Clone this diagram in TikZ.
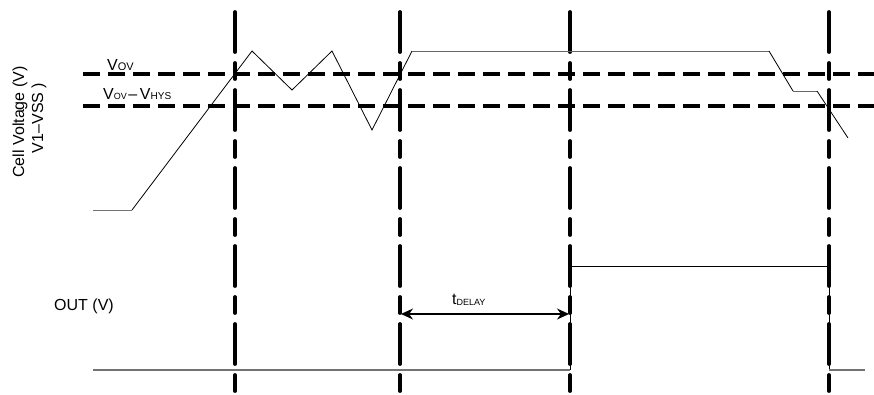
\documentclass[tikz,border=0pt]{standalone}
\usepackage{fontspec}
\setmainfont{Liberation Sans}
\usetikzlibrary{arrows.meta}
\begin{document}
\begin{tikzpicture}[x=1pt,y=-1pt,
  hdash/.style={line width=3.6pt,dash pattern=on 17pt off 8pt},
  vdash/.style={line width=3.8pt,line cap=round,dash pattern=on 40pt off 11pt on 16pt off 11pt},
  sig/.style={line width=0.8pt,black},
  low/.style={line width=1.3pt,black!55},
  lbl/.style={font=\fontsize{16}{19}\selectfont,inner sep=0pt},
  arr/.style={line width=1.1pt,{Stealth[length=12pt,width=11pt]}-{Stealth[length=12pt,width=11pt]}}]
\useasboundingbox (0,0) rectangle (874,394);
% threshold lines
\coordinate (ov0) at (83,74); \coordinate (ov1) at (874,74);
\coordinate (hy0) at (83,106); \coordinate (hy1) at (874,106);
\draw[hdash] (ov0) -- (ov1);
\draw[hdash] (hy0) -- (hy1);
% vertical markers
\foreach \n/\x in {a/235,b/400,c/570,d/829}{
  \coordinate (\n0) at (\x,12); \coordinate (\n1) at (\x,396);
  \draw[vdash] (\n0) -- (\n1);
}
% cell voltage waveform
\coordinate (s0) at (93,210);
\coordinate (s1) at (132,210);
\coordinate (s2) at (252,51);
\coordinate (s3) at (292,90);
\coordinate (s4) at (332,51);
\coordinate (s5) at (372,130);
\coordinate (s6) at (412,51);
\coordinate (s7) at (769,51);
\coordinate (s8) at (793,91);
\coordinate (s9) at (817,91);
\coordinate (s10) at (848,138);
\draw[line width=0.8pt,black!55] (s0) -- (s1);
\draw[sig] (s1) -- (s2) -- (s3) -- (s4) -- (s5) -- (s6);
\draw[line width=0.8pt,black!60] (s6) -- (s7);
\draw[sig] (s7) -- (s8);
\draw[line width=0.8pt,black!60] (s8) -- (s9);
\draw[sig] (s9) -- (s10);
% OUT waveform
\coordinate (o0) at (93,370);
\coordinate (o1) at (570,370);
\coordinate (o2) at (570,266);
\coordinate (o3) at (829,266);
\coordinate (o4) at (829,370);
\coordinate (o5) at (865,370);
\draw[low] (o0) -- (o1);
\draw[sig] (o1) -- (o2) -- (o3) -- (o4);
\draw[low] (o4) -- (o5);
% delay arrow
\coordinate (t0) at (401,314); \coordinate (t1) at (569,314);
\draw[arr] (t0) -- (t1);
\node[anchor=base west,inner sep=0pt] (td) at (452,304) {\fontsize{16}{19}\selectfont t\raisebox{-1pt}{\fontsize{9}{11}\selectfont DELAY}};
% labels
\node[lbl,rotate=90] (cv) at (20,122) {Cell Voltage (V)};
\node[lbl,rotate=90] (vs) at (39,118) {V1–VSS )};
\node[lbl] (out) at (84,306) {OUT (V)};
\node[anchor=base west,inner sep=0pt] (vov) at (107,70) {\fontsize{16}{19}\selectfont V\fontsize{11}{13}\selectfont OV};
\node[anchor=base west,inner sep=0pt] (vhy) at (103,99) {\fontsize{16}{19}\selectfont V\fontsize{9}{11}\selectfont OV\,\fontsize{16}{19}\selectfont –\,V\fontsize{10}{12}\selectfont HYS};
\end{tikzpicture}
\end{document}
